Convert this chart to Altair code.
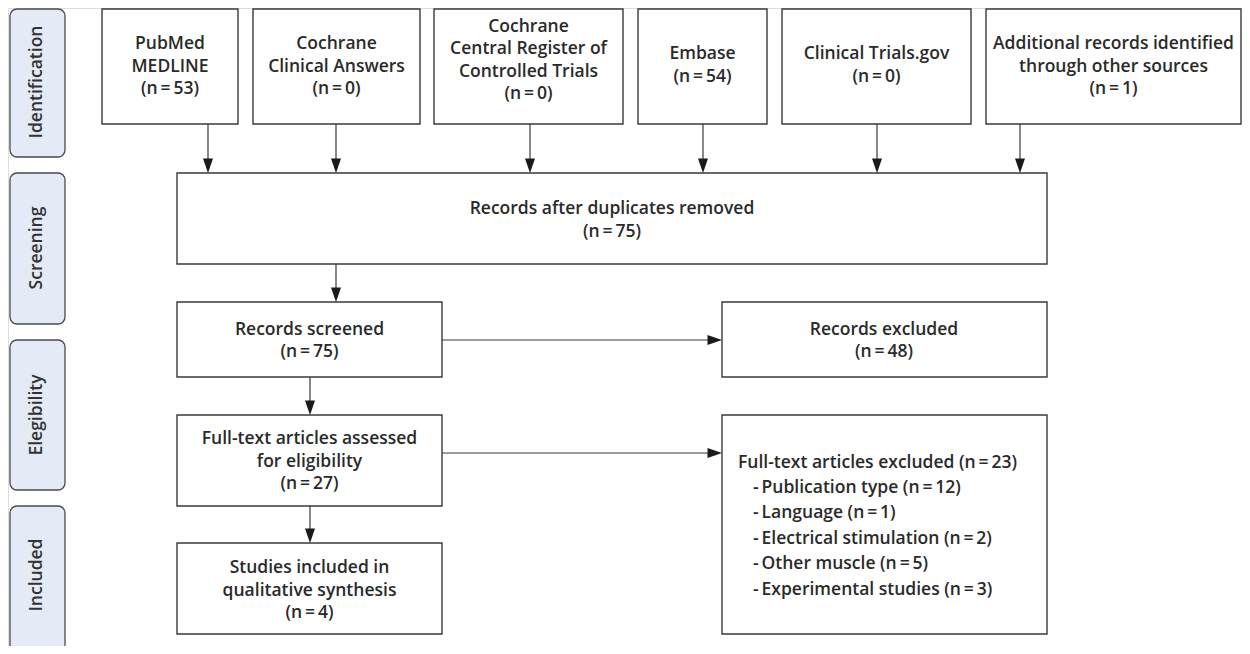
import altair as alt
import pandas as pd

# ---- content ----
phases = ["Identification", "Screening", "Elegibility", "Included"]
source_names = ["PubMed\nMEDLINE", "Cochrane\nClinical Answers",
                "Cochrane\nCentral Register of\nControlled Trials", "Embase",
                "Clinical Trials.gov", "Additional records identified\nthrough other sources"]
source_counts = [53, 0, 0, 54, 0, 1]
flow_names = ["Records after duplicates removed", "Records screened",
              "Full-text articles assessed\nfor eligibility",
              "Studies included in\nqualitative synthesis"]
flow_counts = [75, 75, 27, 4]
excl_names = ["Records excluded", "Full-text articles excluded"]
excl_counts = [48, 23]
reasons = ["Publication type", "Language", "Electrical stimulation", "Other muscle", "Experimental studies"]
reason_counts = [12, 1, 2, 5, 3]

def n(v):
    return "(n\u2009=\u2009%d)" % v

LH = 22.5

def first_line(center, label):
    k = label.count("\n") + 1
    return center - (k - 1) * LH / 2 + 1.5

# ---- layout (pixel coordinates of the page) ----
TOP = 9
src_x0 = [102, 253, 434, 638, 782, 986]
src_x1 = [238, 420, 623, 767, 971, 1241]
src_ty = [65, 65, 59, 64, 64, 65]
src_arrow_x = [208, 336, 530, 703, 877, 1020]
flow_box = [(177, 1047, 173, 264), (177, 442, 302, 377), (177, 442, 415, 506), (177, 442, 543, 634)]
excl_box = [(722, 1047, 302, 377), (722, 1047, 415, 634)]
side_box = [(10, 65, TOP, 157), (10, 65, 173, 324), (10, 65, 340, 490), (10, 65, 506, 680)]
side_ty = [82, 248, 415, 575]

boxes, texts, rules, down_tips, right_tips = [], [], [], [], []
for i, name in enumerate(source_names):
    boxes.append(dict(x0=src_x0[i], x1=src_x1[i], y0=TOP, y1=124))
    t = name + "\n" + n(source_counts[i])
    texts.append(dict(x=(src_x0[i] + src_x1[i]) / 2, y=first_line(src_ty[i], t), t=t))
    rules.append(dict(x0=src_arrow_x[i], x1=src_arrow_x[i], y0=124, y1=170))
    down_tips.append(dict(x=src_arrow_x[i], y=173))
flow_ty = [219, 339.5, 460, 589]
for i, name in enumerate(flow_names):
    x0, x1, y0, y1 = flow_box[i]
    boxes.append(dict(x0=x0, x1=x1, y0=y0, y1=y1))
    t = name + "\n" + n(flow_counts[i])
    texts.append(dict(x=(x0 + x1) / 2 if i else 612, y=first_line(flow_ty[i], t), t=t))
# vertical arrows between flow boxes
for (ax, a, b) in [(336, 264, 302), (310, 377, 415), (310, 506, 543)]:
    rules.append(dict(x0=ax, x1=ax, y0=a, y1=b - 3))
    down_tips.append(dict(x=ax, y=b))
# horizontal arrows to exclusion boxes
for ay in [340, 453]:
    rules.append(dict(x0=442, x1=719, y0=ay, y1=ay))
    right_tips.append(dict(x=722, y=ay))
for i, name in enumerate(excl_names):
    x0, x1, y0, y1 = excl_box[i]
    boxes.append(dict(x0=x0, x1=x1, y0=y0, y1=y1))
t = excl_names[0] + "\n" + n(excl_counts[0])
texts.append(dict(x=884, y=first_line(339.5, t), t=t))

left_texts = [dict(x=738, y=462.5, t=excl_names[1] + " " + n(excl_counts[1]))]
for k, r in enumerate(reasons):
    left_texts.append(dict(x=753, y=488 + k * 25.4, t="-\u2009" + r + " " + n(reason_counts[k])))

sides = []
for i, p in enumerate(phases):
    x0, x1, y0, y1 = side_box[i]
    sides.append(dict(x0=x0, x1=x1, y0=y0, y1=y1, x=37, y=side_ty[i], t=p))

X = alt.Scale(domain=[8, 1242], nice=False, zero=False)
Y = alt.Scale(domain=[8, 646], nice=False, zero=False, reverse=True)

TXT = dict(font="Open Sans", fontSize=17.5, fontWeight=600, color="#2a2a2a", lineBreak="\n", lineHeight=LH)

side_rects = alt.Chart(pd.DataFrame(sides)).mark_rect(
    fill="#e5ebf6", stroke="#4a4a4a", strokeWidth=1.3, cornerRadius=7
).encode(x=alt.X("x0:Q", scale=X, axis=None), x2="x1", y=alt.Y("y0:Q", scale=Y, axis=None), y2="y1")

side_text = alt.Chart(pd.DataFrame(sides)).mark_text(
    font="Open Sans", fontSize=17.5, fontWeight=600, color="#333333", angle=270, baseline="middle", align="center"
).encode(x=alt.X("x:Q", scale=X, axis=None), y=alt.Y("y:Q", scale=Y, axis=None), text="t:N")

box_rects = alt.Chart(pd.DataFrame(boxes)).mark_rect(
    fill="white", stroke="#3a3a3a", strokeWidth=1.4
).encode(x=alt.X("x0:Q", scale=X, axis=None), x2="x1", y=alt.Y("y0:Q", scale=Y, axis=None), y2="y1")

arrow_lines = alt.Chart(pd.DataFrame(rules)).mark_rule(color="#3a3a3a", strokeWidth=1.2).encode(
    x=alt.X("x0:Q", scale=X, axis=None), x2="x1", y=alt.Y("y0:Q", scale=Y, axis=None), y2="y1")

down_heads = alt.Chart(pd.DataFrame(down_tips)).mark_point(
    shape="M-1,-2.9L1,-2.9L0,0Z", filled=True, size=100, color="#1a1a1a", opacity=1
).encode(x=alt.X("x:Q", scale=X, axis=None), y=alt.Y("y:Q", scale=Y, axis=None))

right_heads = alt.Chart(pd.DataFrame(right_tips)).mark_point(
    shape="M-2.9,-1L-2.9,1L0,0Z", filled=True, size=100, color="#1a1a1a", opacity=1
).encode(x=alt.X("x:Q", scale=X, axis=None), y=alt.Y("y:Q", scale=Y, axis=None))

center_text = alt.Chart(pd.DataFrame(texts)).mark_text(
    align="center", baseline="middle", **TXT
).encode(x=alt.X("x:Q", scale=X, axis=None), y=alt.Y("y:Q", scale=Y, axis=None), text="t:N")

left_text = alt.Chart(pd.DataFrame(left_texts)).mark_text(
    align="left", baseline="middle", **TXT
).encode(x=alt.X("x:Q", scale=X, axis=None), y=alt.Y("y:Q", scale=Y, axis=None), text="t:N")

chart = alt.layer(
    side_rects, side_text, box_rects, arrow_lines, down_heads, right_heads, center_text, left_text
).properties(
    width=1234, height=638, padding=0, autosize=alt.AutoSizeParams(type="none")
).configure_view(stroke=None).configure(background="white")

chart.save("out.html", embed_options={"renderer": "svg", "actions": False})
